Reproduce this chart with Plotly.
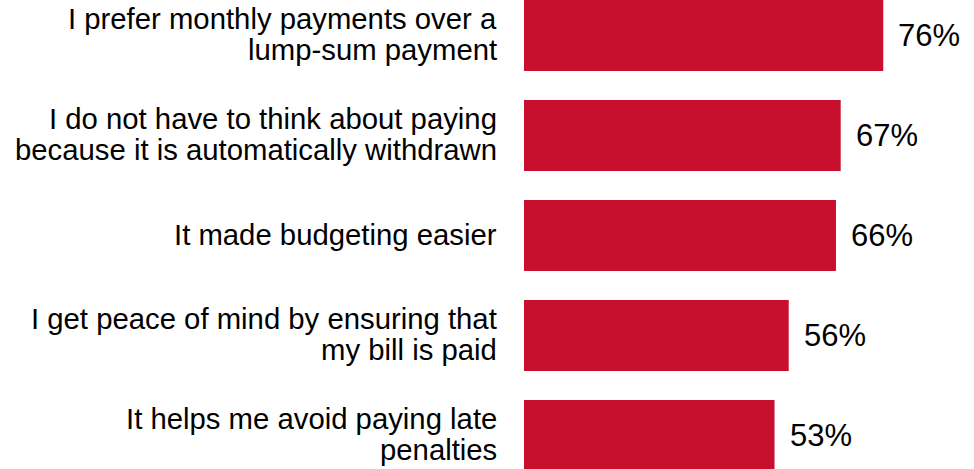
import plotly.graph_objects as go

# Survey reasons, top to bottom, and share of respondents agreeing
reasons = [
    "I prefer monthly payments over a<br>lump-sum payment",
    "I do not have to think about paying<br>because it is automatically withdrawn",
    "It made budgeting easier",
    "I get peace of mind by ensuring that<br>my bill is paid",
    "It helps me avoid paying late<br>penalties",
]
shares = [76, 67, 66, 56, 53]

BAR_COLOR = "#C8102E"
FONT = "Liberation Sans, Arial, sans-serif"

fig = go.Figure(
    go.Bar(
        x=shares,
        y=reasons,
        orientation="h",
        width=0.71,
        marker=dict(color=BAR_COLOR, line=dict(width=0)),
        hoverinfo="skip",
    )
)

annotations = []
line_gap = 31
for label, share in zip(reasons, shares):
    lines = label.split("<br>")
    n = len(lines)
    for j, line in enumerate(lines):
        annotations.append(dict(
            x=0, y=label, xref="x", yref="y",
            text=line, showarrow=False,
            xanchor="right", yanchor="middle",
            xshift=-25, yshift=-(j - (n - 1) / 2) * line_gap + 1.5,
            font=dict(family=FONT, size=29.3, color="#000000"),
        ))
    annotations.append(dict(
        x=share, y=label, xref="x", yref="y",
        text=f"{share}%", showarrow=False,
        xanchor="left", yanchor="middle",
        xshift=13,
        font=dict(family=FONT, size=31, color="#000000"),
    ))

fig.update_layout(
    width=974, height=469,
    margin=dict(l=524, r=0, t=0, b=0),
    paper_bgcolor="white", plot_bgcolor="white",
    showlegend=False,
    annotations=annotations,
    xaxis=dict(range=[0, 95.2], visible=False, fixedrange=True),
    yaxis=dict(
        type="category", categoryorder="array", categoryarray=reasons,
        range=[4.335, -0.355], visible=False, fixedrange=True,
    ),
)

fig.write_html("out.html", config={"displayModeBar": False})
